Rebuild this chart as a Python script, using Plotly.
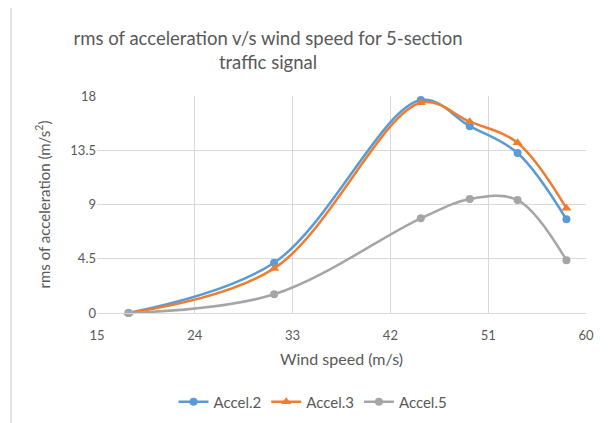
import plotly.graph_objects as go

wind_speed = [17.9, 31.3, 44.8, 49.3, 53.7, 58.2]
accel_2 = [0.0, 4.17, 17.66, 15.5, 13.27, 7.77]
accel_3 = [0.0, 3.7, 17.44, 15.87, 14.12, 8.68]
accel_5 = [0.0, 1.55, 7.85, 9.45, 9.37, 4.37]

x_ticks = [15, 24, 33, 42, 51, 60]
y_ticks = [0, 4.5, 9, 13.5, 18]
y_tick_labels = ["0", "4.5", "9", "13.5", "18"]

series = [
    ("Accel.2", accel_2, "#5B9BD5", "circle", 8),
    ("Accel.3", accel_3, "#ED7D31", "triangle-up", 9),
    ("Accel.5", accel_5, "#A5A5A5", "circle", 8),
]

FONT = "Lato, 'Open Sans', sans-serif"

fig = go.Figure()
for name, vals, color, sym, sz in series:
    fig.add_trace(go.Scatter(
        x=wind_speed, y=vals, name=name, mode="lines+markers",
        line=dict(color=color, width=2.5, shape="spline", smoothing=1.0),
        marker=dict(color=color, symbol=sym, size=sz),
        cliponaxis=False,
    ))

# page is offset by the 8px body margin
OFF = 8
W, H = 600, 415
L, R, T, B = 97 - OFF, 22, 96 - OFF, 110
pw, ph = W - L - R, H - T - B

def px_x(p):
    return (p - OFF - L) / pw

def px_y(p):
    return (H - B - (p - OFF)) / ph

fig.update_layout(
    width=W, height=H,
    margin=dict(l=L, r=R, t=T, b=B, autoexpand=False),
    paper_bgcolor="white", plot_bgcolor="white",
    font=dict(family=FONT, color="#595959", size=13),
    title=dict(
        text="rms of acceleration v/s wind speed for 5-section<br>traffic signal",
        x=(268 - OFF) / W, xanchor="center", y=1 - (45 - OFF) / H, yanchor="middle",
        font=dict(family=FONT, size=18.5, color="#595959"),
    ),
    showlegend=True,
    legend=dict(
        orientation="h", x=px_x(313), xanchor="center", y=px_y(402), yanchor="middle",
        font=dict(family=FONT, size=15, color="#595959"),
        itemwidth=30, tracegroupgap=0,
    ),
    xaxis=dict(
        range=[15, 60], tickvals=x_ticks, ticktext=[str(v) for v in x_ticks],
        showgrid=True, gridcolor="#D9D9D9", gridwidth=1,
        zeroline=False, showline=True, linecolor="#D9D9D9", linewidth=1,
        ticks="", tickfont=dict(size=13, color="#595959"), ticklabelstandoff=10,
        automargin=False,
        title=dict(text="Wind speed (m/s)", font=dict(size=16, color="#595959"), standoff=12),
    ),
    yaxis=dict(
        range=[0, 18], tickvals=y_ticks, ticktext=y_tick_labels,
        showgrid=True, gridcolor="#D9D9D9", gridwidth=1,
        zeroline=False, showline=False, automargin=False,
        ticks="", tickfont=dict(size=13, color="#595959"),
        title=dict(text="rms of acceleration (m/s<sup>2</sup>)", font=dict(size=15, color="#595959"), standoff=16),
    ),
    shapes=[
        dict(type="line", xref="paper", yref="paper",
             x0=px_x(11), x1=px_x(11), y0=px_y(6), y1=px_y(H + 20),
             line=dict(color="#D9D9D9", width=1.5)),
        dict(type="line", xref="paper", yref="paper",
             x0=px_x(11), x1=px_x(W + 20), y0=px_y(6), y1=px_y(6),
             line=dict(color="#D9D9D9", width=1.5)),
    ],
)

fig.write_html("out.html")
